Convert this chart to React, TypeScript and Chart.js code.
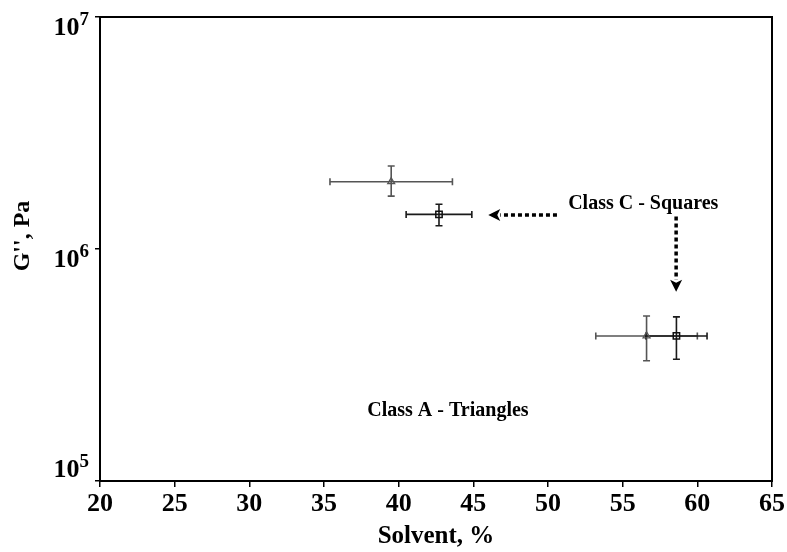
import React, { useEffect, useRef } from "react";
import { Chart, registerables } from "chart.js";

Chart.register(...registerables);

// ---- data ----
const TRI_X = [39.5, 56.6];
const TRI_Y = [1.95e6, 4.22e5];
const TRI_XERR = [4.1, 3.4];
const TRI_YERR_LO = [0.26e6, 0.92e5];
const TRI_YERR_HI = [0.33e6, 0.92e5];

const SQ_X = [42.7, 58.6];
const SQ_Y = [1.41e6, 4.22e5];
const SQ_XERR = [2.2, 2.05];
const SQ_YERR_LO = [0.15e6, 0.87e5];
const SQ_YERR_HI = [0.15e6, 0.88e5];

const X_MIN = 20;
const X_MAX = 65;
const X_STEP = 5;
const Y_MIN = 1e5;
const Y_MAX = 1e7;
const Y_TICKS = [1e5, 1e6, 1e7];

const X_TITLE = "Solvent, %";
const Y_TITLE = "G'', Pa";
const LABEL_C = "Class C - Squares";
const LABEL_A = "Class A - Triangles";
// annotation anchors in data units
const LABEL_C_AT = [51.35, 1.48e6];
const LABEL_A_AT = [37.9, 1.9e5];
const ARROW_H = [[50.6, 1.4e6], [46.0, 1.4e6]];
const ARROW_V = [[58.58, 1.38e6], [58.58, 6.55e5]];

const SERIF = '"Liberation Serif", "Times New Roman", serif';

function drawArrow(ctx: CanvasRenderingContext2D, x1: number, y1: number, x2: number, y2: number) {
  const ang = Math.atan2(y2 - y1, x2 - x1);
  const head = 12;
  const bx = x2 - Math.cos(ang) * head;
  const by = y2 - Math.sin(ang) * head;
  ctx.save();
  ctx.strokeStyle = "#000";
  ctx.fillStyle = "#000";
  ctx.lineWidth = 3.5;
  ctx.setLineDash([4, 3]);
  ctx.beginPath();
  ctx.moveTo(x1, y1);
  ctx.lineTo(bx, by);
  ctx.stroke();
  ctx.setLineDash([]);
  const w = 6;
  ctx.beginPath();
  ctx.moveTo(x2, y2);
  ctx.lineTo(bx + Math.cos(ang + Math.PI / 2) * w, by + Math.sin(ang + Math.PI / 2) * w);
  ctx.lineTo(bx + Math.cos(ang) * 3, by + Math.sin(ang) * 3);
  ctx.lineTo(bx + Math.cos(ang - Math.PI / 2) * w, by + Math.sin(ang - Math.PI / 2) * w);
  ctx.closePath();
  ctx.fill();
  ctx.restore();
}

const extrasPlugin = {
  id: "extras",
  beforeDatasetsDraw(chart: any) {
    const { ctx, scales } = chart;
    const xs = scales.x;
    const ys = scales.y;
    const groups = [
      { x: TRI_X, y: TRI_Y, xe: TRI_XERR, lo: TRI_YERR_LO, hi: TRI_YERR_HI, color: "#555" },
      { x: SQ_X, y: SQ_Y, xe: SQ_XERR, lo: SQ_YERR_LO, hi: SQ_YERR_HI, color: "#1a1a1a" },
    ];
    ctx.save();
    const cap = 3.5;
    for (const g of groups) {
      ctx.strokeStyle = g.color;
      ctx.lineWidth = 1.6;
      for (let i = 0; i < g.x.length; i++) {
        const px = xs.getPixelForValue(g.x[i]);
        const py = ys.getPixelForValue(g.y[i]);
        const xl = xs.getPixelForValue(g.x[i] - g.xe[i]);
        const xr = xs.getPixelForValue(g.x[i] + g.xe[i]);
        const yt = ys.getPixelForValue(g.y[i] + g.hi[i]);
        const yb = ys.getPixelForValue(g.y[i] - g.lo[i]);
        ctx.beginPath();
        ctx.moveTo(xl, py); ctx.lineTo(xr, py);
        ctx.moveTo(xl, py - cap); ctx.lineTo(xl, py + cap);
        ctx.moveTo(xr, py - cap); ctx.lineTo(xr, py + cap);
        ctx.moveTo(px, yt); ctx.lineTo(px, yb);
        ctx.moveTo(px - cap, yt); ctx.lineTo(px + cap, yt);
        ctx.moveTo(px - cap, yb); ctx.lineTo(px + cap, yb);
        ctx.stroke();
      }
    }
    ctx.restore();
  },
  afterDraw(chart: any) {
    const { ctx, scales, chartArea } = chart;
    const xs = scales.x;
    const ys = scales.y;
    ctx.save();
    // frame
    ctx.strokeStyle = "#000";
    ctx.lineWidth = 2;
    ctx.strokeRect(chartArea.left, chartArea.top, chartArea.right - chartArea.left, chartArea.bottom - chartArea.top);
    // y tick labels with superscripts
    ctx.fillStyle = "#000";
    ctx.textBaseline = "alphabetic";
    for (const v of Y_TICKS) {
      const y = ys.getPixelForValue(v);
      const exp = String(Math.round(Math.log10(v)));
      const dy = v === Y_MIN ? -22 : 0;
      ctx.font = `bold 19px ${SERIF}`;
      ctx.textAlign = "right";
      const supRight = chartArea.left - 11;
      const supW = ctx.measureText(exp).width;
      ctx.fillText(exp, supRight, y + 8 + dy);
      ctx.font = `bold 26px ${SERIF}`;
      ctx.fillText("10", supRight - supW, y + 18 + dy);
    }
    // y axis title
    ctx.save();
    ctx.translate(chartArea.left - 77, (chartArea.top + chartArea.bottom) / 2 - 13);
    ctx.rotate(-Math.PI / 2);
    ctx.font = `bold 24px ${SERIF}`;
    ctx.textAlign = "center";
    ctx.textBaseline = "middle";
    ctx.fillText(Y_TITLE, 0, 0);
    ctx.restore();
    // annotations
    ctx.font = `bold 20px ${SERIF}`;
    ctx.textAlign = "left";
    ctx.textBaseline = "alphabetic";
    ctx.fillText(LABEL_C, xs.getPixelForValue(LABEL_C_AT[0]), ys.getPixelForValue(LABEL_C_AT[1]));
    ctx.fillText(LABEL_A, xs.getPixelForValue(LABEL_A_AT[0]), ys.getPixelForValue(LABEL_A_AT[1]));
    drawArrow(ctx, xs.getPixelForValue(ARROW_H[0][0]), ys.getPixelForValue(ARROW_H[0][1]), xs.getPixelForValue(ARROW_H[1][0]), ys.getPixelForValue(ARROW_H[1][1]));
    drawArrow(ctx, xs.getPixelForValue(ARROW_V[0][0]), ys.getPixelForValue(ARROW_V[0][1]), xs.getPixelForValue(ARROW_V[1][0]), ys.getPixelForValue(ARROW_V[1][1]));
    ctx.restore();
  },
};

export default function App() {
  const ref = useRef<HTMLCanvasElement | null>(null);
  useEffect(() => {
    document.body.style.margin = "0";
    const canvas = ref.current;
    if (!canvas) return;
    const chart = new Chart(canvas, {
      type: "scatter",
      data: {
        datasets: [
          {
            label: "Class A",
            data: TRI_X.map((x, i) => ({ x, y: TRI_Y[i] })),
            pointStyle: "triangle",
            radius: 4,
            borderColor: "#555",
            backgroundColor: "rgba(0,0,0,0)",
            borderWidth: 1.3,
          },
          {
            label: "Class C",
            data: SQ_X.map((x, i) => ({ x, y: SQ_Y[i] })),
            pointStyle: "rect",
            radius: 4.5,
            borderColor: "#111",
            backgroundColor: "rgba(0,0,0,0)",
            borderWidth: 1.5,
          },
        ],
      },
      options: {
        animation: false,
        responsive: false,
        maintainAspectRatio: false,
        layout: { padding: { left: 0, top: 17, right: 15, bottom: 0 } },
        plugins: { legend: { display: false }, tooltip: { enabled: false } },
        scales: {
          x: {
            type: "linear",
            min: X_MIN,
            max: X_MAX,
            afterFit: (s: any) => { s.height = 71; },
            ticks: {
              stepSize: X_STEP,
              color: "#000",
              padding: 2,
              maxRotation: 0,
              font: { family: SERIF, size: 26, weight: "bold" },
            },
            grid: { drawOnChartArea: false, drawTicks: true, tickLength: 6, color: "#000", lineWidth: 1.5 },
            border: { display: true, color: "#000", width: 2 },
            title: {
              display: true,
              text: X_TITLE,
              color: "#000",
              padding: { top: 0, bottom: 0 },
              font: { family: SERIF, size: 25, weight: "bold" },
            },
          },
          y: {
            type: "logarithmic",
            min: Y_MIN,
            max: Y_MAX,
            afterFit: (s: any) => { s.width = 100; },
            afterBuildTicks: (s: any) => { s.ticks = Y_TICKS.map((v) => ({ value: v })); },
            ticks: { callback: () => "", color: "#000" },
            grid: { drawOnChartArea: false, drawTicks: true, tickLength: 5, color: "#000", lineWidth: 1.5 },
            border: { display: true, color: "#000", width: 2 },
            title: { display: false },
          },
        },
      },
      plugins: [extrasPlugin],
    } as any);
    return () => chart.destroy();
  }, []);
  return (
    <div style={{ position: "absolute", left: 0, top: 0, width: 787, height: 552, background: "#fff" }}>
      <canvas ref={ref} width={787} height={552} style={{ width: 787, height: 552, display: "block" }} />
    </div>
  );
}
